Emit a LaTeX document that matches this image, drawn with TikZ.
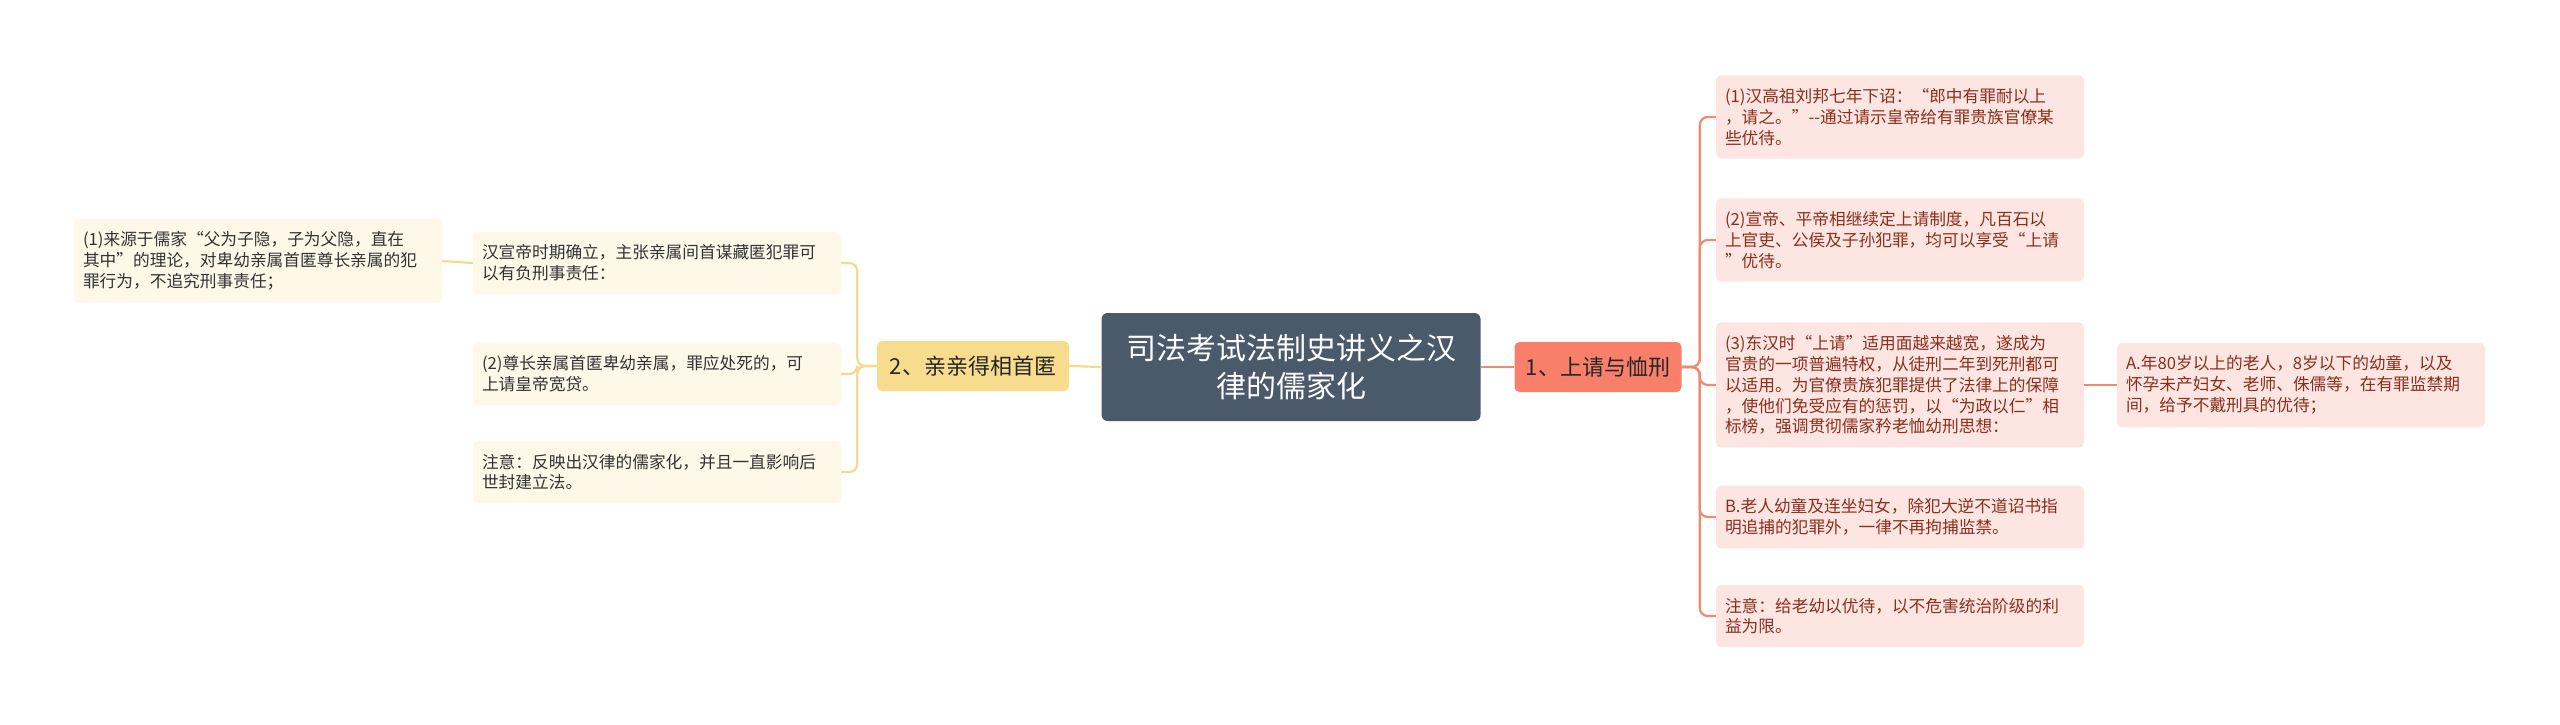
\documentclass[tikz,border=0pt]{standalone}
\usepackage{fontspec}
\setmainfont{Noto Sans CJK SC}
\definecolor{topicfill}{HTML}{4A5A6B}
\definecolor{rbranch}{HTML}{F8806A}
\definecolor{lbranch}{HTML}{F8DC8E}
\definecolor{rline}{HTML}{F08A72}
\definecolor{lline}{HTML}{F6DA8C}
\definecolor{rleaffill}{HTML}{FDE6E1}
\definecolor{lleaffill}{HTML}{FDF8E7}
\definecolor{rleaftext}{HTML}{8A2E1E}
\definecolor{lleaftext}{HTML}{333333}

\begin{document}
\begin{tikzpicture}[x=1pt, y=-1pt,
  leaf/.style={rounded corners=5pt, align=left, text width=350pt, inner xsep=9pt, inner ysep=13pt, font=\fontsize{16.7}{20.8}\selectfont},
  rleaf/.style={leaf, fill=rleaffill, text=rleaftext},
  lleaf/.style={leaf, fill=lleaffill, text=lleaftext},
  branch/.style={rounded corners=5pt, minimum height=50pt, inner sep=0pt, text=black!85, font=\fontsize{22}{26}\selectfont},
  rlink/.style={draw=rline, line width=2.2pt, rounded corners=8pt},
  llink/.style={draw=lline, line width=2.2pt, rounded corners=8pt}]
\useasboundingbox (0,0) rectangle (2560,725);
% Draw central topic
\node[fill=topicfill, rounded corners=6pt, minimum width=379pt, minimum height=108pt, text width=340pt, align=center, text=white, font=\fontsize{30}{38}\selectfont] (topic) at (1291,367) {司法考试法制史讲义之汉\\律的儒家化};
% Draw branches
\node[branch, fill=rbranch, minimum width=167pt] (b1) at (1598,367) {1、上请与恤刑};
\node[branch, fill=lbranch, minimum width=192pt] (b2) at (973,366) {2、亲亲得相首匿};
% Draw right leaves
\node[rleaf] (r1) at (1900,117) {(1)汉高祖刘邦七年下诏：“郎中有罪耐以上\\，请之。”-{}-通过请示皇帝给有罪贵族官僚某\\些优待。};
\node[rleaf] (r2) at (1900,240) {(2)宣帝、平帝相继续定上请制度，凡百石以\\上官吏、公侯及子孙犯罪，均可以享受“上请\\”优待。};
\node[rleaf] (r3) at (1900,385) {(3)东汉时“上请”适用面越来越宽，遂成为\\官贵的一项普遍特权，从徒刑二年到死刑都可\\以适用。为官僚贵族犯罪提供了法律上的保障\\，使他们免受应有的惩罚，以“为政以仁”相\\标榜，强调贯彻儒家矜老恤幼刑思想：};
\node[rleaf] (rA) at (2301,385) {A.年80岁以上的老人，8岁以下的幼童，以及\\怀孕未产妇女、老师、侏儒等，在有罪监禁期\\间，给予不戴刑具的优待；};
\node[rleaf] (rB) at (1900,517) {B.老人幼童及连坐妇女，除犯大逆不道诏书指\\明追捕的犯罪外，一律不再拘捕监禁。};
\node[rleaf] (r4) at (1900,616) {注意：给老幼以优待，以不危害统治阶级的利\\益为限。};
% Draw left leaves
\node[lleaf] (l1) at (657,263) {汉宣帝时期确立，主张亲属间首谋藏匿犯罪可\\以有负刑事责任：};
\node[lleaf] (l0) at (258,261) {(1)来源于儒家“父为子隐，子为父隐，直在\\其中”的理论，对卑幼亲属首匿尊长亲属的犯\\罪行为，不追究刑事责任；};
\node[lleaf] (l2) at (657,374) {(2)尊长亲属首匿卑幼亲属，罪应处死的，可\\上请皇帝宽贷。};
\node[lleaf] (l3) at (657,472) {注意：反映出汉律的儒家化，并且一直影响后\\世封建立法。};
% Draw connectors
\draw[rlink] (topic.east) -- (b1.west);
\draw[llink] (topic.west) -- (b2.east);
\foreach \n in {r1,r2,r3,rB,r4}
    \draw[rlink] (b1.east) -| ([xshift=-16pt]\n.west) -- (\n.west);
\draw[rlink] (r3.east) -- (rA.west);
\foreach \n in {l1,l2,l3}
    \draw[llink] (b2.west) -| ([xshift=16pt]\n.east) -- (\n.east);
\draw[llink] (l1.west) -- (l0.east);
\end{tikzpicture}
\end{document}
